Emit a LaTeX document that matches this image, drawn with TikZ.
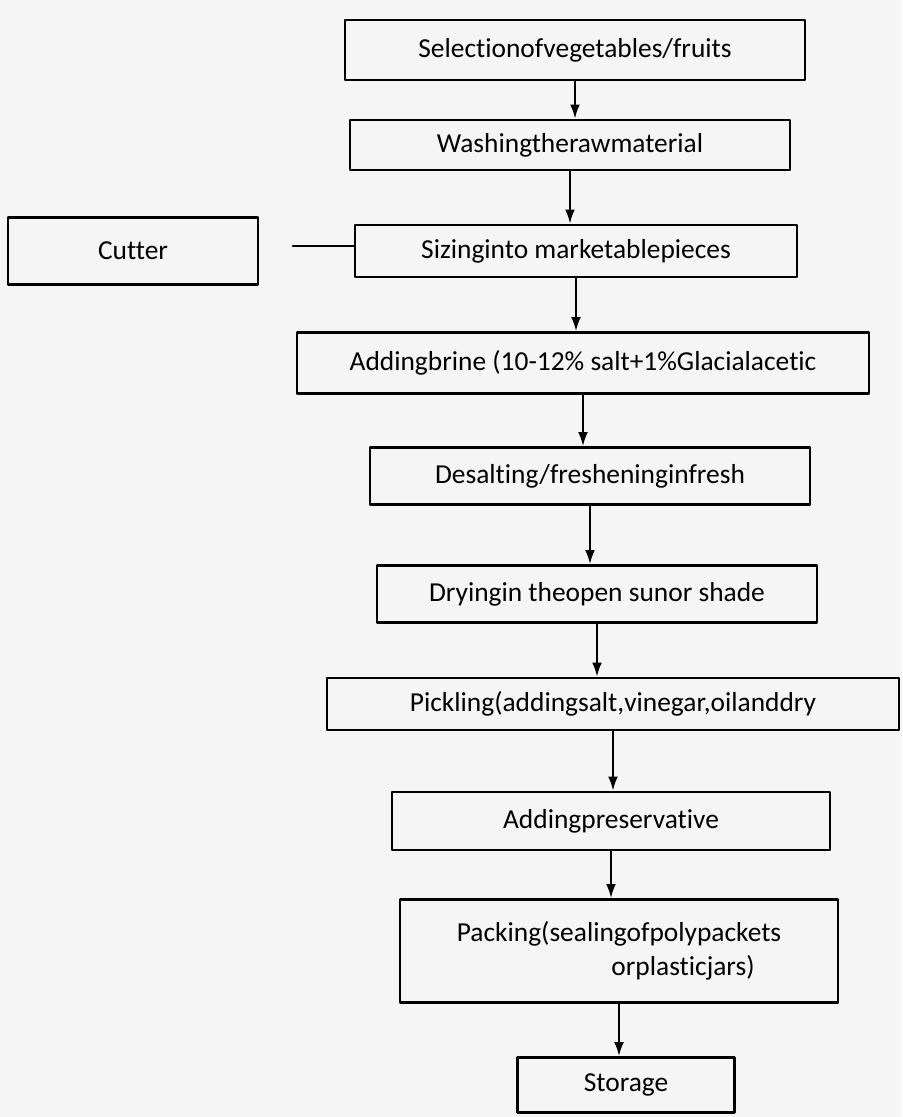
\documentclass[tikz,border=0pt]{standalone}
\usepackage{fontspec}
\setmainfont{Carlito}[Ligatures={NoCommon}]
\usetikzlibrary{arrows.meta}

\begin{document}
\begin{tikzpicture}[x=0.025cm,y=-0.025cm,line width=2pt,line cap=round, line join=round,
  stepbox/.style={draw,minimum width=#1,inner sep=2pt,font=\fontsize{19.5}{24}\selectfont},
  flow/.style={line width=1.4pt,-{Latex[length=10pt,width=7pt]}}]
  \fill[gray!8] (0,0) rectangle (902,1117);
  \useasboundingbox (0,0) rectangle (902,1117);

  \node[stepbox=11.5cm,minimum height=1.5cm] (sel) at (575,50) {Selectionofvegetables/fruits};
  \node[stepbox=11cm,minimum height=1.25cm] (wash) at (570,145) {Washingtherawmaterial};
  \node[stepbox=11.05cm,minimum height=1.3cm] (size) at (576,251) {Sizinginto marketablepieces};
  \node[stepbox=6.25cm,minimum height=1.675cm] (cut) at (133,251) {Cutter};
  \node[stepbox=14.3cm,minimum height=1.525cm] (brine) at (583,363) {Addingbrine (10-12\% salt+1\%Glacialacetic};
  \node[stepbox=11cm,minimum height=1.425cm] (desalt) at (590,476) {Desalting/fresheninginfresh};
  \node[stepbox=11cm,minimum height=1.425cm] (dry) at (597,594) {Dryingin theopen sunor shade};
  \node[stepbox=14.3cm,minimum height=1.3cm] (pick) at (613,704) {Pickling(addingsalt,vinegar,oilanddry};
  \node[stepbox=10.95cm,minimum height=1.45cm] (pres) at (611,821) {Addingpreservative};
  \node[stepbox=10.95cm,minimum height=2.575cm,align=center] (pack) at (619,951) {Packing(sealingofpolypackets\\ \hspace*{3.2cm}orplasticjars)};
  \node[stepbox=5.425cm,minimum height=1.375cm] (stor) at (626,1085) {Storage};

  \coordinate (cutend) at (293,246);
  \draw (cutend) -- (cutend -| size.west);

  \draw[flow] (sel) -- (sel |- wash.north);
  \draw[flow] (wash) -- (wash |- size.north);
  \draw[flow] (size) -- (size |- brine.north);
  \draw[flow] (brine) -- (brine |- desalt.north);
  \draw[flow] (desalt) -- (desalt |- dry.north);
  \draw[flow] (dry) -- (dry |- pick.north);
  \draw[flow] (pick) -- (pick |- pres.north);
  \draw[flow] (pres) -- (pres |- pack.north);
  \draw[flow] (pack) -- (pack |- stor.north);

\end{tikzpicture}
\end{document}
